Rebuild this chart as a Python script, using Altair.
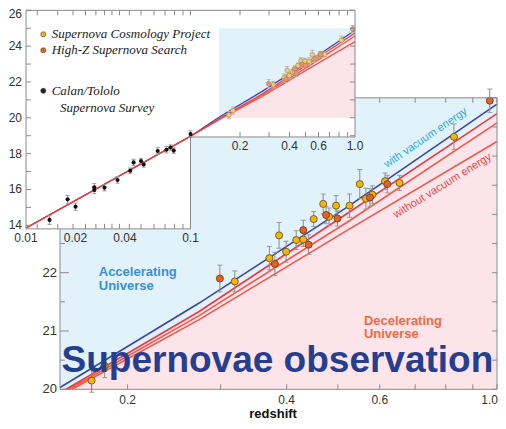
import altair as alt
import pandas as pd

# ---------------- data ----------------
# High-redshift supernovae: redshift, effective magnitude, error, survey
SN_Z = [0.171, 0.181, 0.299, 0.319, 0.371, 0.380, 0.387, 0.399, 0.417, 0.430,
        0.430, 0.440, 0.450, 0.469, 0.475, 0.481, 0.496, 0.499, 0.526, 0.550,
        0.565, 0.575, 0.581, 0.614, 0.620, 0.654, 0.829, 0.969]
SN_M = [20.15, 20.40, 21.90, 21.85, 22.25, 22.15, 22.64, 22.36, 22.56, 22.73,
        22.57, 22.48, 22.92, 23.18, 22.99, 22.96, 23.15, 22.93, 23.15, 23.52,
        23.27, 23.29, 23.34, 23.57, 23.52, 23.54, 24.33, 24.95]
SN_ERR = [0.20, 0.20, 0.23, 0.18, 0.20, 0.20, 0.22, 0.18, 0.16, 0.17,
          0.12, 0.17, 0.13, 0.17, 0.15, 0.15, 0.17, 0.13, 0.20, 0.25,
          0.18, 0.15, 0.15, 0.14, 0.15, 0.13, 0.22, 0.20]
SN_SURVEY = ["SCP", "SCP", "HZ", "SCP", "SCP", "HZ", "SCP", "SCP", "SCP", "HZ",
             "SCP", "HZ", "SCP", "SCP", "HZ", "SCP", "SCP", "HZ", "SCP", "SCP",
             "SCP", "HZ", "SCP", "SCP", "HZ", "SCP", "SCP", "HZ"]

# Calan/Tololo low-redshift supernovae
CT_Z = [0.0139, 0.0179, 0.0200, 0.0260, 0.0260, 0.0300, 0.0360, 0.0430,
        0.0451, 0.0500, 0.0519, 0.0632, 0.0714, 0.0756, 0.0791, 0.1000]
CT_M = [14.30, 15.45, 15.04, 16.12, 15.97, 16.10, 16.53, 17.05,
        17.51, 17.59, 17.40, 18.15, 18.22, 18.34, 18.17, 19.09]
CT_ERR = [0.25, 0.22, 0.20, 0.22, 0.20, 0.18, 0.18, 0.15,
          0.18, 0.15, 0.15, 0.18, 0.18, 0.15, 0.15, 0.18]

# model curves (with / without vacuum energy)
BLUE_Z = [0.149, 0.2727, 0.5214, 1.0]
BLUE_M = [20.03, 21.475, 23.13, 24.89]
RED1_Z = [0.153, 0.2727, 0.5214, 1.0]
RED1_M = [20.00, 21.33, 23.02, 24.73]
RED2_Z = [0.155, 0.2727, 0.5214, 1.0]
RED2_M = [20.00, 21.26, 22.87, 24.57]
RED3_Z = [0.157, 0.2727, 0.5214, 1.0]
RED3_M = [20.00, 21.19, 22.73, 24.25]
LOWZ_Z = [0.01, 0.1]
LOWZ_M = [13.85, 18.97]

# axes
MAIN_X_TICKS = [0.171, 0.2, 0.3, 0.4, 0.5, 0.6, 0.7, 0.8, 0.9, 1.0]
MAIN_X_LABELS = [0.2, 0.4, 0.6]
MAIN_X_TEXT = ["0.2", "0.4", "0.6"]
MAIN_X_LAST = [1.0]
MAIN_X_LAST_TEXT = ["1.0"]
MAIN_Y_TICKS = [20, 20.5, 21, 21.5, 22, 22.5, 23, 23.5, 24, 24.5, 25]
MAIN_Y_LABELS = [20, 21, 22]
INSET_X_TICKS_LOW = [0.0117, 0.0156, 0.0193, 0.023, 0.0266, 0.03, 0.0333, 0.037, 0.0425,
                     0.05, 0.06, 0.07, 0.08, 0.09]
INSET_X_TICKS_HIGH = [0.2, 0.3, 0.4, 0.5, 0.6, 0.7, 0.8, 0.9]
INSET_X_LABELS_LOW = [0.01, 0.02, 0.04, 0.1]
INSET_X_TEXT_LOW = ["0.01", "0.02", "0.04", "0.1"]
INSET_X_LABELS_HIGH = [0.2, 0.4, 0.6, 1.0]
INSET_X_TEXT_HIGH = ["0.2", "0.4", "0.6", "1.0"]
INSET_Y_TICKS = [14, 15, 16, 17, 18, 19, 20, 21, 22, 23, 24, 25, 26]
INSET_Y_LABELS = [14, 16, 18, 20, 22, 24]
INSET_Y_TOP = [26]

LEGEND_TEXT = ["Supernova Cosmology Project", "High-Z Supernova Search",
               "Calan/Tololo", "Supernova Survey"]

# ---------------- scales ----------------
MX = alt.Scale(type="log", domain=[0.149, 1.0], range=[52, 489], nice=False)
MY = alt.Scale(type="linear", domain=[20, 25], range=[381.3, 89.8], nice=False, zero=False)
IX = alt.Scale(type="log", domain=[0.01, 1.0], range=[18, 347], nice=False)
IY = alt.Scale(type="linear", domain=[14, 26], range=[217.3, 2.3], nice=False, zero=False)

FONT = "Liberation Sans"
AXIS_GREY = "#8a8a8a"
BG_BLUE = "#e2f2fb"
BG_PINK = "#fde4ea"
C_BLUE = "#3d45a3"
C_RED1 = "#e93a45"
C_RED = "#f0584a"
C_YEL = "#f7b500"
C_ORA = "#e8611c"


def enc(ch, xs, ys, x="x", y="y", x2=None, y2=None, **kw):
    e = dict(x=alt.X(f"{x}:Q", scale=xs, axis=None),
             y=alt.Y(f"{y}:Q", scale=ys, axis=None))
    if x2:
        e["x2"] = alt.X2(f"{x2}:Q")
    if y2:
        e["y2"] = alt.Y2(f"{y2}:Q")
    e.update(kw)
    return ch.encode(**e)


def df_line(zs, ms):
    return pd.DataFrame({"x": zs, "y": ms})


sn = pd.DataFrame({"x": SN_Z, "y": SN_M, "lo": [m - e for m, e in zip(SN_M, SN_ERR)],
                   "hi": [m + e for m, e in zip(SN_M, SN_ERR)], "s": SN_SURVEY})
ct = pd.DataFrame({"x": CT_Z, "y": CT_M, "lo": [m - e for m, e in zip(CT_M, CT_ERR)],
                   "hi": [m + e for m, e in zip(CT_M, CT_ERR)]})

lines_main = [(BLUE_Z, BLUE_M, C_BLUE), (RED3_Z, RED3_M, C_RED), (RED2_Z, RED2_M, C_RED),
              (RED1_Z, RED1_M, C_RED1)]

# ---------------- main panel ----------------
main = []
main.append(enc(alt.Chart(pd.DataFrame({"x": [0.149], "x2": [1.0], "y": [20], "y2": [25]}))
                .mark_rect(color=BG_BLUE), MX, MY, x2="x2", y2="y2"))
pink = pd.DataFrame({"x": RED1_Z, "y": RED1_M, "b": [20] * len(RED1_Z)})
main.append(enc(alt.Chart(pink).mark_area(color=BG_PINK), MX, MY, y2="b"))
for zs, ms, col in lines_main:
    main.append(enc(alt.Chart(df_line(zs, ms)).mark_line(color=col, strokeWidth=1.6), MX, MY))
# error bars
main.append(enc(alt.Chart(sn).mark_rule(color="#8c8c8c", strokeWidth=1), MX, MY, y="lo", y2="hi"))
for col_ in ["lo", "hi"]:
    main.append(enc(alt.Chart(sn).mark_point(shape="M-1,0L1,0", size=25, color="#9a9a9a",
                                             strokeWidth=1, filled=False, opacity=1), MX, MY, y=col_))
main.append(enc(alt.Chart(sn).transform_filter("datum.s == 'SCP'")
                .mark_circle(size=50, color=C_YEL, stroke="#5a4a30", strokeWidth=0.8, opacity=1), MX, MY))
main.append(enc(alt.Chart(sn).transform_filter("datum.s == 'HZ'")
                .mark_circle(size=50, color=C_ORA, stroke="#5a3a30", strokeWidth=0.8, opacity=1), MX, MY))
# frame
main.append(enc(alt.Chart(pd.DataFrame({"x": [0.149], "x2": [1.0], "y": [20], "y2": [25]}))
                .mark_rect(fillOpacity=0, stroke=AXIS_GREY, strokeWidth=1), MX, MY, x2="x2", y2="y2"))
# ticks
bt = pd.DataFrame({"x": MAIN_X_TICKS, "y": [20] * len(MAIN_X_TICKS), "y2": [20.086] * len(MAIN_X_TICKS)})
tt = pd.DataFrame({"x": MAIN_X_TICKS, "y": [25] * len(MAIN_X_TICKS), "y2": [24.914] * len(MAIN_X_TICKS)})
main.append(enc(alt.Chart(bt).mark_rule(color=AXIS_GREY), MX, MY, y2="y2"))
main.append(enc(alt.Chart(tt).mark_rule(color=AXIS_GREY), MX, MY, y2="y2"))
lt = pd.DataFrame({"y": MAIN_Y_TICKS, "x": [0.149] * len(MAIN_Y_TICKS),
                   "x2": [0.149 * (1.0396 if float(v).is_integer() else 1.0218) for v in MAIN_Y_TICKS]})
rt = pd.DataFrame({"y": MAIN_Y_TICKS, "x": [1.0] * len(MAIN_Y_TICKS),
                   "x2": [1.0 / 1.0218] * len(MAIN_Y_TICKS)})
main.append(enc(alt.Chart(lt).mark_rule(color=AXIS_GREY), MX, MY, x2="x2"))
main.append(enc(alt.Chart(rt).mark_rule(color=AXIS_GREY), MX, MY, x2="x2"))
# tick labels
main.append(enc(alt.Chart(pd.DataFrame({"x": MAIN_X_LABELS, "y": [20] * 3, "t": MAIN_X_TEXT}))
                .mark_text(dy=10.5, fontSize=12, font=FONT, color="#333333"), MX, MY, text="t:N"))
main.append(enc(alt.Chart(pd.DataFrame({"x": MAIN_X_LAST, "y": [20], "t": MAIN_X_LAST_TEXT}))
                .mark_text(dy=10.5, dx=1, align="right", fontSize=12, font=FONT, color="#333333"),
                MX, MY, text="t:N"))
main.append(enc(alt.Chart(pd.DataFrame({"y": MAIN_Y_LABELS, "x": [0.149] * 3,
                                        "t": [str(v) for v in MAIN_Y_LABELS]}))
                .mark_text(dx=-3, align="right", fontSize=13, font=FONT, color="#333333"),
                MX, MY, text="t:N"))
# annotations
ann = pd.DataFrame({"x": [0.733], "y": [24.31], "t": ["with vacuum energy"]})
main.append(enc(alt.Chart(ann).mark_text(angle=325.7, fontSize=11, font=FONT, color="#2aaae2"),
                MX, MY, text="t:N"))
ann2 = pd.DataFrame({"x": [0.789], "y": [23.49], "t": ["without vacuum energy"]})
main.append(enc(alt.Chart(ann2).mark_text(angle=328.2, fontSize=11, font=FONT, color="#ee4444"),
                MX, MY, text="t:N"))
acc = pd.DataFrame({"x": [0.1764], "y": [22.02], "t": ["Accelerating\nUniverse"]})
main.append(enc(alt.Chart(acc).mark_text(align="left", baseline="middle", lineBreak="\n",
                                         lineHeight=14, fontSize=13, fontWeight="bold",
                                         font=FONT, color="#3a8fd8"), MX, MY, text="t:N"))
dec = pd.DataFrame({"x": [0.560], "y": [21.18], "t": ["Decelerating\nUniverse"]})
main.append(enc(alt.Chart(dec).mark_text(align="left", baseline="middle", lineBreak="\n",
                                         lineHeight=13, fontSize=13, fontWeight="bold",
                                         font=FONT, color="#f26a3c"), MX, MY, text="t:N"))
big = pd.DataFrame({"x": [0.150], "y": [20.30], "t": ["Supernovae observation"]})
main.append(enc(alt.Chart(big).mark_text(align="left", baseline="alphabetic", fontSize=37,
                                         fontWeight="bold", font=FONT, color="#243f8f"),
                MX, MY, text="t:N"))
red = pd.DataFrame({"x": [0.377], "y": [20], "t": ["redshift"]})
main.append(enc(alt.Chart(red).mark_text(align="center", baseline="alphabetic", dy=29,
                                         fontSize=13, fontWeight="bold", font=FONT, color="#111111"),
                MX, MY, text="t:N"))

main_layer = alt.layer(*main)

# ---------------- inset ----------------
ins = []
white = pd.DataFrame({"x": [0.007, 0.007], "x2": [1.0, 0.1], "y": [18.93, 13.8], "y2": [26.6, 18.93]})
ins.append(enc(alt.Chart(white).mark_rect(color="#ffffff"), IX, IY, x2="x2", y2="y2"))
ins.append(enc(alt.Chart(pd.DataFrame({"x": [0.149], "x2": [1.0], "y": [20], "y2": [25]}))
               .mark_rect(color=BG_BLUE), IX, IY, x2="x2", y2="y2"))
ins.append(enc(alt.Chart(pink).mark_area(color=BG_PINK), IX, IY, y2="b"))
for zs, ms, col in lines_main:
    ins.append(enc(alt.Chart(df_line(LOWZ_Z + zs, LOWZ_M + ms)).mark_line(color=col, strokeWidth=1.3),
                   IX, IY))
ins.append(enc(alt.Chart(sn).mark_rule(color="#b5b5b5", strokeWidth=1), IX, IY, y="lo", y2="hi"))
ins.append(enc(alt.Chart(ct).mark_rule(color="#9a9a9a", strokeWidth=1), IX, IY, y="lo", y2="hi"))
for col_ in ["lo", "hi"]:
    ins.append(enc(alt.Chart(ct).mark_point(shape="M-1,0L1,0", size=16, color="#9a9a9a",
                                            strokeWidth=1, filled=False, opacity=1), IX, IY, y=col_))
    ins.append(enc(alt.Chart(sn).mark_point(shape="M-1,0L1,0", size=16, color="#b5b5b5",
                                            strokeWidth=1, filled=False, opacity=1), IX, IY, y=col_))
ins.append(enc(alt.Chart(sn).transform_filter("datum.s == 'SCP'")
               .mark_circle(size=22, color="#f7ca6a", stroke="#a08a6a", strokeWidth=0.6, opacity=1), IX, IY))
ins.append(enc(alt.Chart(sn).transform_filter("datum.s == 'HZ'")
               .mark_circle(size=22, color="#ec9662", stroke="#a07a6a", strokeWidth=0.6, opacity=1), IX, IY))
ins.append(enc(alt.Chart(ct).mark_circle(size=17, color="#111111", opacity=1), IX, IY))
# inset frame
frame = pd.DataFrame({
    "x": [0.01, 0.01, 1.0, 0.1, 0.01, 0.1],
    "x2": [0.01, 1.0, 1.0, 1.0, 0.1, 0.1],
    "y": [13.8, 26, 18.93, 18.93, 13.8, 13.8],
    "y2": [26, 26, 26, 18.93, 13.8, 18.93]})
ins.append(enc(alt.Chart(frame).mark_rule(color=AXIS_GREY), IX, IY, x2="x2", y2="y2"))
# inset ticks
itop = INSET_X_TICKS_LOW + [0.1] + INSET_X_TICKS_HIGH
ins.append(enc(alt.Chart(pd.DataFrame({"x": itop, "y": [26] * len(itop), "y2": [25.72] * len(itop)}))
               .mark_rule(color=AXIS_GREY), IX, IY, y2="y2"))
ins.append(enc(alt.Chart(pd.DataFrame({"x": INSET_X_TICKS_LOW, "y": [13.8] * len(INSET_X_TICKS_LOW),
                                       "y2": [14.08] * len(INSET_X_TICKS_LOW)}))
               .mark_rule(color=AXIS_GREY), IX, IY, y2="y2"))
ins.append(enc(alt.Chart(pd.DataFrame({"x": INSET_X_TICKS_HIGH, "y": [18.93] * len(INSET_X_TICKS_HIGH),
                                       "y2": [19.21] * len(INSET_X_TICKS_HIGH)}))
               .mark_rule(color=AXIS_GREY), IX, IY, y2="y2"))
ins.append(enc(alt.Chart(pd.DataFrame({"y": INSET_Y_TICKS, "x": [0.01] * len(INSET_Y_TICKS),
                                       "x2": [0.01 * 1.0724] * len(INSET_Y_TICKS)}))
               .mark_rule(color=AXIS_GREY), IX, IY, x2="x2"))
ry = [v for v in INSET_Y_TICKS if v >= 19]
ins.append(enc(alt.Chart(pd.DataFrame({"y": ry, "x": [1.0] * len(ry), "x2": [1.0 / 1.0724] * len(ry)}))
               .mark_rule(color=AXIS_GREY), IX, IY, x2="x2"))
# inset tick labels
ins.append(enc(alt.Chart(pd.DataFrame({"x": INSET_X_LABELS_LOW, "y": [13.8] * 4, "t": INSET_X_TEXT_LOW}))
               .mark_text(dy=9, fontSize=12, font=FONT, color="#333333"), IX, IY, text="t:N"))
ins.append(enc(alt.Chart(pd.DataFrame({"x": INSET_X_LABELS_HIGH, "y": [18.93] * 4, "t": INSET_X_TEXT_HIGH}))
               .mark_text(dy=9, fontSize=12, font=FONT, color="#333333"), IX, IY, text="t:N"))
ins.append(enc(alt.Chart(pd.DataFrame({"y": INSET_Y_LABELS, "x": [0.01] * len(INSET_Y_LABELS),
                                       "t": [str(v) for v in INSET_Y_LABELS]}))
               .mark_text(dx=-4, align="right", fontSize=12, font=FONT, color="#333333"),
               IX, IY, text="t:N"))
ins.append(enc(alt.Chart(pd.DataFrame({"y": INSET_Y_TOP, "x": [0.01], "t": [str(v) for v in INSET_Y_TOP]}))
               .mark_text(dx=-4, dy=4, align="right", fontSize=12, font=FONT, color="#333333"),
               IX, IY, text="t:N"))
# legend
leg_dots = pd.DataFrame({"x": [0.01274] * 3, "y": [24.66, 23.77, 21.51], "c": [C_YEL, C_ORA, "#222222"]})
ins.append(enc(alt.Chart(leg_dots).mark_circle(size=26, stroke="#444444", strokeWidth=0.6, opacity=1),
               IX, IY, color=alt.Color("c:N", scale=None)))
leg = pd.DataFrame({"x": [0.01433, 0.01433, 0.01433, 0.01609], "y": [24.66, 23.77, 21.51, 20.53],
                    "t": LEGEND_TEXT})
ins.append(enc(alt.Chart(leg).mark_text(align="left", baseline="middle", fontSize=13,
                                        fontStyle="italic", font="Liberation Serif", color="#222222"),
               IX, IY, text="t:N"))

inset_layer = alt.layer(*ins)

chart = alt.layer(main_layer, inset_layer).resolve_scale(
    x="independent", y="independent", color="independent"
).properties(
    width=490, height=413, padding=0, autosize=alt.AutoSizeParams(type="none")
).configure_view(strokeWidth=0)

chart.save("out.html", embed_options={"renderer": "svg", "actions": False})
